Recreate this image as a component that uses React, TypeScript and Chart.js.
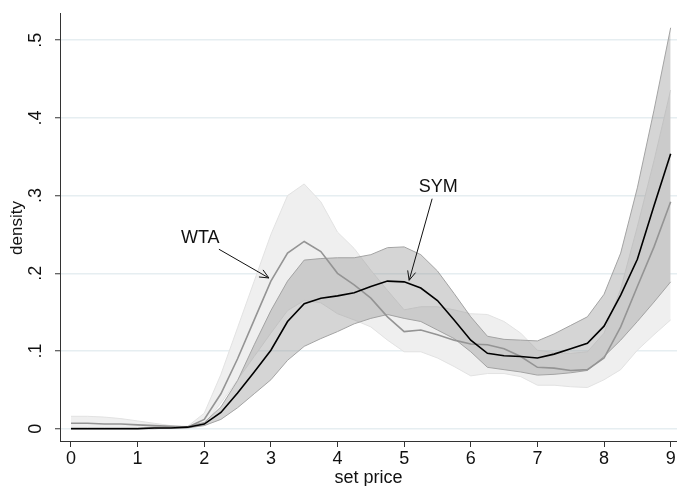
import React, { useEffect, useRef } from "react";
import { Chart, registerables } from "chart.js";

Chart.register(...registerables);

const prices = [0, 0.25, 0.5, 0.75, 1, 1.25, 1.5, 1.75, 2, 2.25, 2.5, 2.75, 3, 3.25, 3.5, 3.75, 4, 4.25, 4.5, 4.75, 5, 5.25, 5.5, 5.75, 6, 6.25, 6.5, 6.75, 7, 7.25, 7.5, 7.75, 8, 8.25, 8.5, 8.75, 9];

const symLine = [0, 0, 0, 0, 0, 0.001, 0.001, 0.002, 0.006, 0.021, 0.046, 0.073, 0.101, 0.138, 0.161, 0.168, 0.171, 0.175, 0.183, 0.19, 0.189, 0.181, 0.165, 0.14, 0.114, 0.097, 0.094, 0.093, 0.091, 0.096, 0.103, 0.11, 0.132, 0.172, 0.218, 0.287, 0.354];
const symUpper = [0.001, 0.001, 0.001, 0.001, 0.001, 0.002, 0.002, 0.003, 0.008, 0.028, 0.062, 0.108, 0.152, 0.19, 0.217, 0.219, 0.22, 0.22, 0.224, 0.233, 0.234, 0.224, 0.203, 0.174, 0.144, 0.119, 0.115, 0.114, 0.113, 0.122, 0.133, 0.144, 0.173, 0.226, 0.31, 0.41, 0.516];
const symLower = [0, 0, 0, 0, 0, 0, 0.001, 0.001, 0.004, 0.012, 0.027, 0.045, 0.063, 0.088, 0.106, 0.116, 0.125, 0.135, 0.142, 0.147, 0.142, 0.138, 0.127, 0.116, 0.099, 0.079, 0.076, 0.073, 0.069, 0.07, 0.072, 0.075, 0.093, 0.114, 0.138, 0.163, 0.189];

const wtaLine = [0.007, 0.007, 0.006, 0.006, 0.005, 0.004, 0.003, 0.002, 0.012, 0.045, 0.09, 0.14, 0.19, 0.226, 0.241, 0.228, 0.2, 0.185, 0.168, 0.144, 0.125, 0.127, 0.121, 0.114, 0.109, 0.108, 0.103, 0.093, 0.079, 0.078, 0.075, 0.076, 0.091, 0.131, 0.183, 0.234, 0.292];
const wtaUpper = [0.016, 0.016, 0.015, 0.013, 0.01, 0.007, 0.004, 0.003, 0.02, 0.07, 0.13, 0.19, 0.25, 0.3, 0.315, 0.292, 0.253, 0.232, 0.204, 0.178, 0.153, 0.157, 0.157, 0.153, 0.148, 0.147, 0.138, 0.123, 0.101, 0.098, 0.097, 0.099, 0.123, 0.18, 0.26, 0.345, 0.436];
const wtaLower = [0, 0, 0, 0, 0, 0, 0.001, 0.001, 0.006, 0.033, 0.063, 0.093, 0.123, 0.152, 0.165, 0.162, 0.148, 0.14, 0.131, 0.114, 0.099, 0.099, 0.091, 0.08, 0.068, 0.071, 0.071, 0.067, 0.056, 0.056, 0.054, 0.053, 0.063, 0.076, 0.101, 0.121, 0.14];

const xTicks = [0, 1, 2, 3, 4, 5, 6, 7, 8, 9];
const yTicks = [0, 0.1, 0.2, 0.3, 0.4, 0.5];
const yTickLabels = ["0", ".1", ".2", ".3", ".4", ".5"];

const xTitle = "set price";
const yTitle = "density";

// annotations: text position and arrow (from -> to) in data units
const annotations = [
  { text: "WTA", tx: 1.94, ty: 0.245, x0: 2.22, y0: 0.231, x1: 2.97, y1: 0.194 },
  { text: "SYM", tx: 5.51, ty: 0.311, x0: 5.42, y0: 0.296, x1: 5.075, y1: 0.191 },
];

const FONT = "'Liberation Sans', Arial, Helvetica, sans-serif";

const toPts = (arr: number[]) => prices.map((x, i) => ({ x, y: arr[i] }));

const overlayPlugin = {
  id: "overlay",
  afterDraw(chart: any) {
    const ctx = chart.ctx;
    const xs = chart.scales.x;
    const ys = chart.scales.y;
    ctx.save();
    ctx.fillStyle = "#111";
    // y tick labels rotated
    ctx.font = `18px ${FONT}`;
    ctx.textAlign = "center";
    ctx.textBaseline = "middle";
    yTicks.forEach((v, i) => {
      const py = ys.getPixelForValue(v);
      ctx.save();
      ctx.translate(36, py);
      ctx.rotate(-Math.PI / 2);
      ctx.fillText(yTickLabels[i], 0, 0);
      ctx.restore();
    });
    // y title
    ctx.font = `17px ${FONT}`;
    ctx.save();
    ctx.translate(17, 228);
    ctx.rotate(-Math.PI / 2);
    ctx.fillText(yTitle, 0, 0);
    ctx.restore();
    // x title
    ctx.font = `18px ${FONT}`;
    ctx.textBaseline = "alphabetic";
    ctx.fillText(xTitle, (xs.left + xs.right) / 2, 483);

    // annotations
    ctx.font = `18px ${FONT}`;
    ctx.textBaseline = "middle";
    ctx.strokeStyle = "#111";
    ctx.lineWidth = 1;
    annotations.forEach((a) => {
      ctx.fillText(a.text, xs.getPixelForValue(a.tx), ys.getPixelForValue(a.ty));
      const px0 = xs.getPixelForValue(a.x0);
      const py0 = ys.getPixelForValue(a.y0);
      const px1 = xs.getPixelForValue(a.x1);
      const py1 = ys.getPixelForValue(a.y1);
      ctx.beginPath();
      ctx.moveTo(px0, py0);
      ctx.lineTo(px1, py1);
      const ang = Math.atan2(py1 - py0, px1 - px0);
      const hl = 10;
      const spread = 0.42;
      ctx.moveTo(px1 - hl * Math.cos(ang - spread), py1 - hl * Math.sin(ang - spread));
      ctx.lineTo(px1, py1);
      ctx.lineTo(px1 - hl * Math.cos(ang + spread), py1 - hl * Math.sin(ang + spread));
      ctx.stroke();
    });
    ctx.restore();
  },
};

export default function App() {
  const canvasRef = useRef<HTMLCanvasElement | null>(null);

  useEffect(() => {
    document.body.style.margin = "0";
    const canvas = canvasRef.current;
    if (!canvas) return;
    const chart = new Chart(canvas, {
      type: "line",
      data: {
        datasets: [
          {
            label: "WTA upper",
            data: toPts(wtaUpper),
            borderColor: "#e2e2e2",
            borderWidth: 1,
            backgroundColor: "#efefef",
            fill: "+1",
            pointRadius: 0,
            order: 6,
          },
          {
            label: "WTA lower",
            data: toPts(wtaLower),
            borderColor: "#e2e2e2",
            borderWidth: 1,
            fill: false,
            pointRadius: 0,
            order: 5,
          },
          {
            label: "SYM upper",
            data: toPts(symUpper),
            borderColor: "#a3a3a3",
            borderWidth: 1,
            backgroundColor: "rgba(140,140,140,0.37)",
            fill: "+1",
            pointRadius: 0,
            order: 4,
          },
          {
            label: "SYM lower",
            data: toPts(symLower),
            borderColor: "#a3a3a3",
            borderWidth: 1,
            fill: false,
            pointRadius: 0,
            order: 3,
          },
          {
            label: "WTA",
            data: toPts(wtaLine),
            borderColor: "#949494",
            borderWidth: 1.6,
            fill: false,
            pointRadius: 0,
            order: 2,
          },
          {
            label: "SYM",
            data: toPts(symLine),
            borderColor: "#000000",
            borderWidth: 1.6,
            fill: false,
            pointRadius: 0,
            order: 1,
          },
        ],
      },
      options: {
        animation: false,
        responsive: false,
        devicePixelRatio: 1,
        layout: { padding: { top: 13, right: 0, left: 0, bottom: 0 } },
        plugins: {
          legend: { display: false },
          tooltip: { enabled: false },
        },
        scales: {
          x: {
            type: "linear",
            min: -0.165,
            max: 9.095,
            afterBuildTicks: (scale: any) => {
              scale.ticks = xTicks.map((v) => ({ value: v }));
            },
            afterFit: (scale: any) => {
              scale.height = 45;
            },
            ticks: {
              font: { family: FONT, size: 18 },
              color: "#111",
              padding: 1,
              maxRotation: 0,
              callback: (v: any) => String(v),
            },
            grid: {
              drawOnChartArea: false,
              drawTicks: true,
              tickLength: 6,
              tickColor: "#333",
              tickWidth: 1,
            },
            border: { display: true, color: "#333", width: 1 },
          },
          y: {
            type: "linear",
            min: -0.0158,
            max: 0.535,
            afterBuildTicks: (scale: any) => {
              scale.ticks = yTicks.map((v) => ({ value: v }));
            },
            afterFit: (scale: any) => {
              scale.width = 60;
            },
            ticks: { display: false },
            grid: {
              color: "#e6eef1",
              lineWidth: 1.5,
              drawTicks: true,
              tickLength: 5,
              tickColor: "#333",
              tickWidth: 1,
            },
            border: { display: true, color: "#333", width: 1 },
          },
        },
      },
      plugins: [overlayPlugin],
    });
    return () => chart.destroy();
  }, []);

  return (
    <div style={{ position: "fixed", left: 0, top: 0, width: 677, height: 486, background: "#fff" }}>
      <canvas ref={canvasRef} width={677} height={486} style={{ width: 677, height: 486 }} />
    </div>
  );
}
